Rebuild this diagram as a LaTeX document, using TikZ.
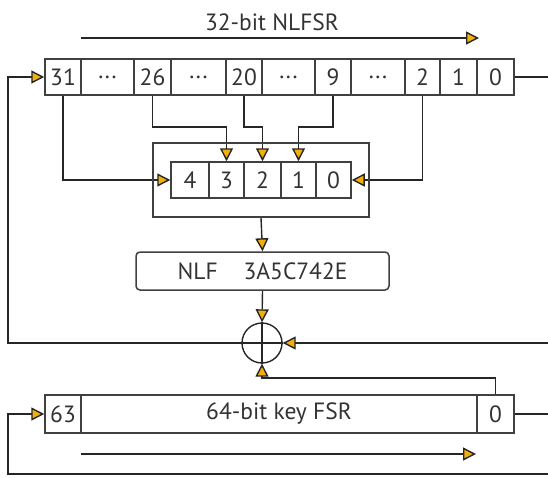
\documentclass[tikz,border=0pt]{standalone}
\usepackage{fontspec}
\setmainfont{PT Sans}
\usetikzlibrary{arrows.meta}
\definecolor{tipfill}{HTML}{F2B10A}
\definecolor{linecol}{HTML}{262626}
\definecolor{boxcol}{HTML}{404040}
\definecolor{txtcol}{HTML}{333333}
\pgfdeclarelayer{edgelayer}
\pgfdeclarelayer{nodelayer}
\pgfsetlayers{edgelayer,nodelayer,main}
\tikzstyle{edge}=[draw=linecol, line width=1.4pt]
\tikzstyle{arrowedge}=[draw=linecol, line width=1.4pt, -{Triangle[length=13pt,width=13pt,fill=tipfill]}]
\tikzstyle{cell}=[rectangle, draw=boxcol, fill=white, line width=1.5pt, minimum height=36, inner sep=0pt, text=txtcol, font=\fontsize{23.5}{28}\selectfont]
\tikzstyle{frame}=[rectangle, draw=boxcol, line width=1.5pt, inner sep=0pt]
\tikzstyle{label}=[text=txtcol, inner sep=0pt, font=\fontsize{23.5}{28}\selectfont]
\tikzstyle{xorgate}=[circle, draw=linecol, line width=1.4pt, minimum size=40, inner sep=0pt]

\begin{document}
\begin{tikzpicture}[x=1pt, y=-1pt]
					\useasboundingbox (0, 0) rectangle (548, 477);
					\begin{pgfonlayer}{nodelayer}
						\node [style=label] (title) at (272, 22) {32-bit NLFSR};
						\node [style=cell, minimum width=36] (n31) at (63, 77) {31};
						\node [style=cell, minimum width=53] (nd1) at (107.5, 77) {...};
						\node [style=cell, minimum width=37] (n26) at (152.5, 77) {26};
						\node [style=cell, minimum width=55] (nd2) at (198.5, 77) {...};
						\node [style=cell, minimum width=36] (n20) at (244, 77) {20};
						\node [style=cell, minimum width=53] (nd3) at (288.5, 77) {...};
						\node [style=cell, minimum width=36] (n9) at (333, 77) {9};
						\node [style=cell, minimum width=54] (nd4) at (378, 77) {...};
						\node [style=cell, minimum width=35] (n2) at (422.5, 77) {2};
						\node [style=cell, minimum width=37] (n1) at (458.5, 77) {1};
						\node [style=cell, minimum width=37] (n0) at (495.5, 77) {0};
						\node [style=frame, minimum width=216, minimum height=74] (comb) at (261, 180) {};
						\node [style=cell, minimum width=38] (r4) at (190, 180) {4};
						\node [style=cell, minimum width=35] (r3) at (226.5, 180) {3};
						\node [style=cell, minimum width=37] (r2) at (262.5, 180) {2};
						\node [style=cell, minimum width=35] (r1) at (298.5, 180) {1};
						\node [style=cell, minimum width=35] (r0) at (333.5, 180) {0};
						\node [style=cell, minimum width=253, minimum height=38, rounded corners=4pt] (nlf) at (262.5, 271) {NLF\hspace{26pt}3A5C742E};
						\node [style=xorgate] (xor) at (262, 343) {};
						\node [style=cell, minimum width=36, minimum height=38] (k63) at (63, 414) {63};
						\node [style=cell, minimum width=396, minimum height=38] (kmid) at (279, 414) {64-bit key FSR};
						\node [style=cell, minimum width=37, minimum height=38] (k0) at (495.5, 414) {0};
					\end{pgfonlayer}
					\coordinate (ta1) at (81, 38);
					\coordinate (ta2) at (479, 38);
					\coordinate (ba1) at (81, 454);
					\coordinate (ba2) at (476, 454);
					\coordinate (j26) at (152.5, 127);
					\coordinate (j20) at (244, 127);
					\coordinate (j9) at (333, 127);
					\coordinate (jk) at (495.5, 378);
					\coordinate (ltop) at (8, 77);
					\coordinate (rtop) at (548, 77);
					\coordinate (rxor) at (548, 343);
					\coordinate (rkey) at (548, 414);
					\coordinate (lbot) at (8, 474);
					\coordinate (rbot) at (548, 474);
					\begin{pgfonlayer}{edgelayer}
						\draw [style=arrowedge] (ta1) to (ta2);
						\draw [style=arrowedge] (ba1) to (ba2);
						\draw [style=arrowedge] (n31.south) |- (r4.west);
						\draw [style=arrowedge] (n26.south) -- (j26) -| (r3.north);
						\draw [style=arrowedge] (n20.south) -- (j20) -| (r2.north);
						\draw [style=arrowedge] (n9.south) -- (j9) -| (r1.north);
						\draw [style=arrowedge] (n2.south) |- (r0.east);
						\draw [style=arrowedge] (comb.south) to (nlf.north);
						\draw [style=arrowedge] (nlf.south) to (xor.north);
						\draw [style=arrowedge] (k0.north) -- (jk) -| (xor.south);
						\draw [style=arrowedge] (rxor) to (xor.east);
						\draw [style=arrowedge] (xor.west) -| (ltop) -- (n31.west);
						\draw [style=arrowedge] (rbot) -- (lbot) |- (k63.west);
						\draw [style=edge] (n0.east) to (rtop);
						\draw [style=edge] (k0.east) to (rkey);
					\end{pgfonlayer}
					\draw [style=edge] (xor.north) to (xor.south);
					\draw [style=edge] (xor.west) to (xor.east);
				\end{tikzpicture}
\end{document}
